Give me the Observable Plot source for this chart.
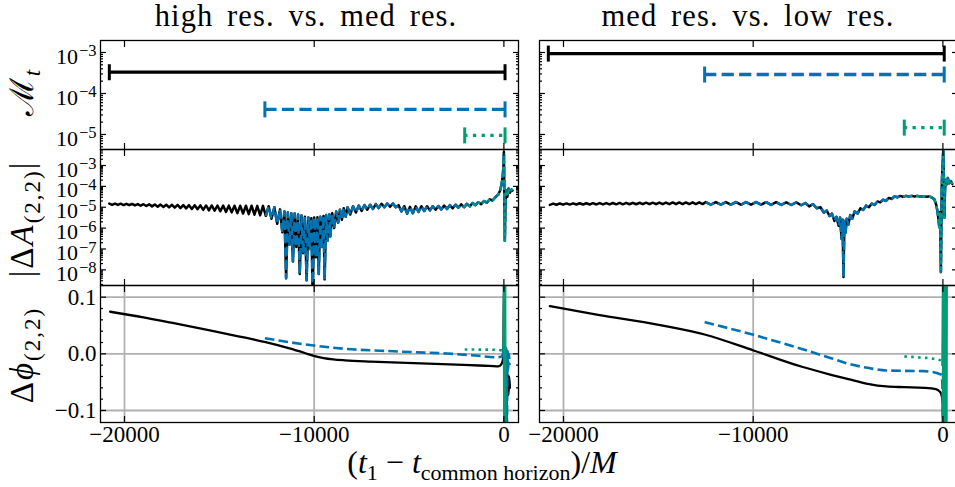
<!DOCTYPE html>
<html><head><meta charset="utf-8">
<script src="https://cdn.jsdelivr.net/npm/d3@7"></script>
<script src="https://cdn.jsdelivr.net/npm/@observablehq/plot@0.6"></script>
<style>
html,body{margin:0;padding:0;background:#fff;}
#wrap{position:relative;width:955px;height:487px;overflow:hidden;background:#fff;font-family:"Liberation Serif","DejaVu Serif",serif;}
#wrap svg{position:absolute;}
</style></head>
<body><div id="wrap"></div>
<script>
// ---------------- data ----------------
const SERIES = ["solid", "dashed", "dotted"];
const X_TICKS = [-20000, -10000, 0];

// mismatch M_t intervals (row 1)
const mtStartHM = [-20800, -12600, -2066];
const mtEndHM   = [60, 60, 60];
const mtValHM   = [3.3e-4, 4.1e-5, 9.5e-6];
const mtStartML = [-20800, -12560, -2035];
const mtEndML   = [70, 70, 70];
const mtValML   = [9.4e-4, 2.9e-4, 1.47e-5];

// |ΔA(2,2)| high vs med : early part (solid only) and the part shared by all curves
const dAEarlyHM = [[-20800,1.51e-5],[-20650,1.31e-5],[-20500,1.50e-5],[-20350,1.30e-5],[-20200,1.48e-5],[-20050,1.27e-5],[-19900,1.46e-5],[-19750,1.25e-5],[-19600,1.44e-5],[-19450,1.22e-5],[-19300,1.42e-5],[-19150,1.18e-5],[-19000,1.40e-5],[-18850,1.15e-5],[-18700,1.38e-5],[-18550,1.10e-5],[-18400,1.36e-5],[-18250,1.07e-5],[-18100,1.34e-5],[-17950,1.03e-5],[-17800,1.32e-5],[-17650,9.9e-6],[-17500,1.31e-5],[-17350,9.5e-6],[-17200,1.29e-5],[-17050,9.1e-6],[-16900,1.27e-5],[-16750,8.8e-6],[-16600,1.26e-5],[-16450,8.3e-6],[-16300,1.24e-5],[-16150,8.0e-6],[-16000,1.23e-5],[-15850,7.5e-6],[-15700,1.22e-5],[-15550,7.0e-6],[-15400,1.22e-5],[-15250,6.8e-6],[-15100,1.21e-5],[-14950,6.4e-6],[-14800,1.2e-5],[-14650,6.0e-6],[-14500,1.19e-5],[-14350,5.7e-6],[-14200,1.18e-5],[-14050,5.2e-6],[-13900,1.18e-5],[-13750,5.0e-6],[-13600,1.18e-5],[-13450,4.7e-6],[-13300,1.18e-5],[-13150,4.4e-6],[-13000,1.17e-5],[-12850,4.1e-6],[-12700,1.17e-5]];
const dACommonHM = [[-12550,3.9e-6],[-12400,1.12e-5],[-12250,2.8e-6],[-12100,1e-5],[-11950,1.6e-6],[-11800,7.9e-6],[-11680,6.3e-7],[-11570,6.3e-6],[-11480,4.0e-9],[-11390,5.6e-6],[-11300,1.6e-7],[-11210,5.2e-6],[-11120,2.5e-8],[-11030,5.0e-6],[-10940,1.26e-7],[-10850,4.5e-6],[-10760,6.3e-9],[-10670,4.0e-6],[-10580,6.3e-8],[-10490,3.5e-6],[-10400,3.2e-9],[-10310,3.2e-6],[-10220,1e-7],[-10150,3.0e-6],[-10080,5e-10],[-10000,3.2e-6],[-9910,4e-8],[-9830,3.3e-6],[-9760,6.3e-9],[-9680,3.5e-6],[-9590,1.26e-7],[-9510,3.8e-6],[-9450,3.5e-9],[-9370,4.2e-6],[-9290,2.5e-7],[-9200,4.5e-6],[-9150,4e-7],[-9050,5.2e-6],[-8950,1e-6],[-8840,6.3e-6],[-8740,1.8e-6],[-8640,7.6e-6],[-8540,2.5e-6],[-8440,8.9e-6],[-8340,3.5e-6],[-8240,1e-5],[-8100,4.5e-6],[-7950,1.12e-5],[-7800,5.6e-6],[-7650,1.2e-5],[-7500,6.6e-6],[-7350,1.26e-5],[-7200,7.6e-6],[-7050,1.32e-5],[-6900,8.3e-6],[-6750,1.41e-5],[-6600,9.1e-6],[-6450,1.48e-5],[-6300,1e-5],[-6150,1.51e-5],[-6000,1.05e-5],[-5850,1.51e-5],[-5700,1e-5],[-5550,1.26e-5],[-5400,6.3e-6],[-5250,1.12e-5],[-5100,5.0e-6],[-4950,1.05e-5],[-4800,5.2e-6],[-4650,1.1e-5],[-4500,6.0e-6],[-4350,1.12e-5],[-4200,6.6e-6],[-4050,1.12e-5],[-3900,7.1e-6],[-3750,1.12e-5],[-3600,7.6e-6],[-3450,1.15e-5],[-3300,7.9e-6],[-3150,1.2e-5],[-3000,8.3e-6],[-2850,1.26e-5],[-2700,8.9e-6],[-2550,1.32e-5],[-2400,9.5e-6],[-2250,1.38e-5],[-2100,1e-5],[-1950,1.45e-5],[-1800,1.1e-5],[-1650,1.58e-5],[-1500,1.26e-5],[-1350,1.74e-5],[-1200,1.41e-5],[-1050,2.0e-5],[-900,1.66e-5],[-750,2.4e-5],[-600,2.1e-5],[-450,3.0e-5],[-300,4.0e-5],[-200,6.3e-5],[-120,1.26e-4],[-60,3.2e-4],[-20,1e-3],[0,4.4e-3],[25,3.2e-5],[50,2.5e-7],[80,1e-5],[120,6.3e-5],[180,3.2e-5],[250,7.9e-5],[320,5e-5],[400,7e-5],[450,6.3e-5]];

// |ΔA(2,2)| med vs low
const dAEarlyML = [[-20720,1.3e-5],[-20545,1.5e-5],[-20370,1.32e-5],[-20195,1.52e-5],[-20020,1.33e-5],[-19845,1.53e-5],[-19670,1.34e-5],[-19495,1.54e-5],[-19320,1.35e-5],[-19145,1.55e-5],[-18970,1.35e-5],[-18795,1.56e-5],[-18620,1.36e-5],[-18445,1.57e-5],[-18270,1.36e-5],[-18095,1.58e-5],[-17920,1.37e-5],[-17745,1.59e-5],[-17570,1.37e-5],[-17395,1.6e-5],[-17220,1.38e-5],[-17045,1.61e-5],[-16870,1.38e-5],[-16695,1.62e-5],[-16520,1.39e-5],[-16345,1.63e-5],[-16170,1.39e-5],[-15995,1.64e-5],[-15820,1.4e-5],[-15645,1.65e-5],[-15470,1.4e-5],[-15295,1.66e-5],[-15120,1.4e-5],[-14945,1.67e-5],[-14770,1.41e-5],[-14595,1.68e-5],[-14420,1.41e-5],[-14245,1.69e-5],[-14070,1.41e-5],[-13895,1.7e-5],[-13720,1.42e-5],[-13545,1.71e-5],[-13370,1.42e-5],[-13195,1.72e-5],[-13020,1.42e-5],[-12845,1.73e-5],[-12670,1.42e-5]];
const dACommonML = [[-12500,1.76e-5],[-12235,1.32e-5],[-11970,1.76e-5],[-11705,1.32e-5],[-11440,1.76e-5],[-11175,1.32e-5],[-10910,1.76e-5],[-10645,1.32e-5],[-10380,1.76e-5],[-10115,1.32e-5],[-9850,1.76e-5],[-9585,1.32e-5],[-9320,1.75e-5],[-9055,1.3e-5],[-8790,1.74e-5],[-8525,1.3e-5],[-8260,1.72e-5],[-7995,1.28e-5],[-7730,1.7e-5],[-7465,1.25e-5],[-7250,1.6e-5],[-7050,1.1e-5],[-6850,1.4e-5],[-6650,9e-6],[-6450,1.0e-5],[-6280,5.5e-6],[-6120,7e-6],[-5980,3.8e-6],[-5850,5e-6],[-5720,2.2e-6],[-5610,3.5e-6],[-5500,1.3e-6],[-5420,3.2e-6],[-5340,3e-7],[-5290,2.5e-6],[-5240,4.5e-9],[-5190,2.2e-6],[-5130,6e-7],[-5070,2.8e-6],[-4980,1.5e-6],[-4880,4.2e-6],[-4780,2.8e-6],[-4650,6.3e-6],[-4500,5.0e-6],[-4350,8.9e-6],[-4200,7.5e-6],[-4050,1.2e-5],[-3900,1.0e-5],[-3750,1.5e-5],[-3600,1.3e-5],[-3450,1.9e-5],[-3300,1.7e-5],[-3150,2.3e-5],[-3000,2.0e-5],[-2850,2.8e-5],[-2700,2.5e-5],[-2550,3.3e-5],[-2400,3.0e-5],[-2250,3.5e-5],[-2100,3.2e-5],[-1950,3.5e-5],[-1800,3.3e-5],[-1650,3.5e-5],[-1500,3.3e-5],[-1350,3.5e-5],[-1200,3.3e-5],[-1050,3.4e-5],[-900,3.2e-5],[-750,3.3e-5],[-600,3.0e-5],[-450,2.4e-5],[-350,1.3e-5],[-280,6e-6],[-230,2.5e-6],[-190,1.1e-6],[-150,6e-6],[-105,7.8e-9],[-60,1e-4],[-20,1e-3],[20,5.2e-3],[50,3.2e-4],[80,3.2e-6],[110,6.3e-5],[150,2e-4],[200,1.26e-4],[260,2.5e-4],[330,1.4e-4],[420,1.8e-4],[500,1.3e-4]];
const dAStartHM = [-Infinity, -12600, -2100];
const dAStartML = [-Infinity, -12560, -2100];

// Δφ(2,2): inspiral parts and post-merger parts
const dPhiHM = [
  [[-20760,0.0743],[-19000,0.0645],[-17460,0.0545],[-15500,0.0415],[-14000,0.031],[-12560,0.0205],[-11300,0.0095],[-10500,0.0015],[-10020,-0.0035],[-9500,-0.0075],[-9000,-0.0098],[-8380,-0.0115],[-7000,-0.0137],[-5500,-0.0155],[-4000,-0.0172],[-2500,-0.019],[-1000,-0.021],[-395,-0.022],[-250,-0.0215],[-150,-0.019],[-80,-0.014],[-30,-0.005],[5,0.13],[20,-0.01],[50,-0.025],[80,-0.02],[110,-0.035],[140,-0.028],[170,-0.05],[200,-0.035],[240,-0.073],[280,-0.04],[320,-0.06]],
  [[-12600,0.0275],[-11300,0.0205],[-10020,0.0146],[-8380,0.0088],[-6500,0.0055],[-4755,0.003],[-3000,0.0005],[-1500,-0.003],[-395,-0.006],[-150,-0.005],[-50,0.0],[0,0.02],[20,-0.03],[40,0.015],[60,-0.13],[80,0.01],[100,-0.02],[130,0.01],[160,-0.13],[190,0.005],[220,-0.03],[260,0.0],[300,-0.02]],
  [[-2066,0.0076],[-1000,0.0074],[-400,0.007],[-100,0.006],[-20,0.005]]
];
const dPhiPostHM = [[-20,0.005],[0,0.13],[12,-0.13],[24,0.13],[36,-0.13],[48,0.13],[60,-0.13],[72,0.13],[84,-0.13]];
const dPhiML = [
  [[-20720,0.0841],[-18175,0.0688],[-14983,0.0512],[-12561,0.0341],[-9983,0.0059],[-7474,-0.0224],[-5895,-0.037],[-4982,-0.0447],[-3965,-0.053],[-2982,-0.0576],[-2035,-0.0588],[-982,-0.06],[-368,-0.0624],[-140,-0.0676],[-18,-0.082],[10,-0.13]],
  [[-12561,0.0559],[-9983,0.0335],[-7474,0.0088],[-5895,-0.0076],[-4982,-0.0176],[-3965,-0.0247],[-2982,-0.0294],[-982,-0.0306],[-105,-0.0365],[-30,-0.05],[0,-0.13],[25,0.05],[45,-0.13],[65,0.02],[85,-0.13]],
  [[-2035,-0.0047],[-1200,-0.0065],[-456,-0.0088],[-105,-0.0118],[-30,-0.02]]
];
const dPhiPostML = [[-30,-0.02],[0,0.13],[15,-0.13],[30,0.13],[45,-0.13],[60,0.13],[75,-0.13],[90,0.13],[105,-0.13],[120,0.13],[135,-0.13],[150,0.13],[165,-0.13],[180,0.13],[195,-0.13],[210,0.13]];

// ---------------- styling ----------------
const COLORS = {solid: "#000000", dashed: "#0173B2", dotted: "#029E73"};
const FONT = '"Liberation Serif","DejaVu Serif",serif';
const X_DOMAIN = [-21265, 770];
const MT_DOMAIN = [4.3e-6, 1.96e-3];
const DA_DOMAIN = [1.78e-9, 5.85e-3];
const PHI_DOMAIN = [-0.1212, 0.1206];
const ROW_TOP = [40, 149, 285], ROW_H = [109, 136, 137];
const FRAME_W = 418, COL_LEFT = [100, 539];

function logMinors(dom) {
  const out = [];
  for (let e = -10; e <= -1; e++) for (let m = 2; m <= 9; m++) {
    const v = m * Math.pow(10, e);
    if (v > dom[0] && v < dom[1]) out.push(v);
  }
  return out;
}
const capSymbol = {draw(ctx, size) { const r = Math.sqrt(size / Math.PI); ctx.moveTo(0, -r); ctx.lineTo(0, r); }};
const logFmt = d => "10^\u2212" + (-Math.round(Math.log10(d)));

function dashOf(s, w) {
  if (s === "dashed") return `${(3.7*w).toFixed(1)},${(1.6*w).toFixed(1)}`;
  if (s === "dotted") return `${w.toFixed(1)},${(1.65*w).toFixed(1)}`;
  return null;
}

function tickMarks(maj, min) {
  const c = {tickFormat: () => "", label: null, strokeWidth: 1.2};
  return [
    Plot.axisY({...c, anchor: "left", ticks: maj, tickSize: 6, dx: 6}),
    Plot.axisY({...c, anchor: "right", ticks: maj, tickSize: 6, dx: -6}),
    min.length ? Plot.axisY({...c, anchor: "left", ticks: min, tickSize: 3, dx: 3}) : null,
    min.length ? Plot.axisY({...c, anchor: "right", ticks: min, tickSize: 3, dx: -3}) : null,
    Plot.axisX({...c, anchor: "top", ticks: X_TICKS, tickSize: 6, dy: 6}),
    Plot.axisX({...c, anchor: "bottom", ticks: X_TICKS, tickSize: 6, dy: -6})
  ];
}

function supers(svg) {
  const NS = "http://www.w3.org/2000/svg";
  svg.querySelectorAll("text").forEach(t => {
    const s = t.textContent, i = s.indexOf("^");
    if (i < 0) return;
    while (t.firstChild) t.removeChild(t.firstChild);
    const a = document.createElementNS(NS, "tspan"); a.textContent = s.slice(0, i);
    const b = document.createElementNS(NS, "tspan"); b.textContent = s.slice(i + 1);
    b.setAttribute("dy", "-0.45em"); b.setAttribute("dx", "1"); b.setAttribute("font-size", "16.5px");
    t.append(a, b);
  });
}

function panel(col, row, dataMarks) {
  let y, maj, min, fmt;
  if (row === 0) { y = {type: "log", domain: MT_DOMAIN}; maj = [1e-3, 1e-4, 1e-5]; min = logMinors(MT_DOMAIN); fmt = logFmt; }
  else if (row === 1) { y = {type: "log", domain: DA_DOMAIN}; maj = [1e-3,1e-4,1e-5,1e-6,1e-7,1e-8]; min = logMinors(DA_DOMAIN); fmt = logFmt; }
  else { y = {type: "linear", domain: PHI_DOMAIN}; maj = [-0.1, 0, 0.1]; min = [-0.08,-0.06,-0.04,-0.02,0.02,0.04,0.06,0.08]; fmt = d3.format(".1f"); }
  const ml = col === 0 ? 100 : 0;
  const marks = [];
  if (row === 2) {
    marks.push(Plot.gridX(X_TICKS, {stroke: "#b0b0b0", strokeOpacity: 1, strokeWidth: 1.8}));
    marks.push(Plot.gridY(maj, {stroke: "#b0b0b0", strokeOpacity: 1, strokeWidth: 1.8}));
  }
  marks.push(...dataMarks);
  marks.push(Plot.frame({stroke: "black", strokeWidth: 1.3}));
  marks.push(...tickMarks(maj, min));
  if (col === 0) marks.push(Plot.axisY({anchor: "left", ticks: maj, tickSize: 0, tickPadding: 4, tickFormat: fmt, label: null, fontSize: row < 2 ? 22 : 23, dy: row < 2 ? 4 : 0}));
  if (row === 2) marks.push(Plot.axisX({anchor: "bottom", ticks: X_TICKS, tickSize: 0, tickPadding: 3, tickFormat: d3.format("d"), label: null, fontSize: 23}));
  const p = Plot.plot({
    width: FRAME_W + ml, height: ROW_H[row],
    marginLeft: ml, marginRight: 0, marginTop: 0, marginBottom: 0,
    style: {background: "transparent", overflow: "visible", fontFamily: FONT, fontSize: "22px", maxWidth: "none"},
    x: {domain: X_DOMAIN}, y,
    marks
  });
  supers(p);
  p.style.left = (COL_LEFT[col] - ml) + "px";
  p.style.top = ROW_TOP[row] + "px";
  document.getElementById("wrap").appendChild(p);
}

function mtMarks(starts, ends, vals) {
  const out = [];
  SERIES.forEach((s, i) => {
    out.push(Plot.ruleY([vals[i]], {x1: starts[i], x2: ends[i], y: d => d, stroke: COLORS[s], strokeWidth: 3.3, strokeDasharray: dashOf(s, 3.3), strokeLinecap: "butt"}));
    out.push(Plot.dot([starts[i], ends[i]], {x: d => d, y: () => vals[i], symbol: capSymbol, r: 8, stroke: COLORS[s], strokeWidth: 3, fill: "none", strokeLinecap: "butt"}));
  });
  return out;
}
function dAMarks(early, common, startT) {
  return SERIES.map((s, i) => {
    const data = i === 0 ? early.concat(common) : common.filter(d => d[0] >= startT[i]);
    return Plot.line(data, {x: d => d[0], y: d => d[1], stroke: COLORS[s], strokeWidth: 2.5, strokeDasharray: dashOf(s, 2.5), strokeLinecap: i ? "butt" : "round", clip: true});
  });
}
function phiMarks(series, post) {
  const m = SERIES.map((s, i) => Plot.line(series[i], {x: d => d[0], y: d => d[1], curve: "monotone-x", stroke: COLORS[s], strokeWidth: i === 0 ? 2.3 : 2.6, strokeDasharray: dashOf(s, 2.6), strokeLinecap: i ? "butt" : "round", clip: true}));
  m.push(Plot.line(post, {x: d => d[0], y: d => d[1], stroke: COLORS.dotted, strokeWidth: 2.2, clip: true}));
  return m;
}

panel(0, 0, mtMarks(mtStartHM, mtEndHM, mtValHM));
panel(1, 0, mtMarks(mtStartML, mtEndML, mtValML));
panel(0, 1, dAMarks(dAEarlyHM, dACommonHM, dAStartHM));
panel(1, 1, dAMarks(dAEarlyML, dACommonML, dAStartML));
panel(0, 2, phiMarks(dPhiHM, dPhiPostHM));
panel(1, 2, phiMarks(dPhiML, dPhiPostML));

// ---------------- text overlay (titles and axis labels) ----------------
const ov = d3.select("#wrap").append("svg").attr("width", 955).attr("height", 487).style("left", "0px").style("top", "0px")
  .attr("font-family", FONT).attr("fill", "black");
ov.append("text").attr("x", 306).attr("y", 26).attr("text-anchor", "middle").attr("font-size", 30.5)
  .attr("letter-spacing", 1.1).attr("word-spacing", 5).text("high res. vs. med res.");
ov.append("text").attr("x", 748).attr("y", 26).attr("text-anchor", "middle").attr("font-size", 30.5)
  .attr("letter-spacing", 1.1).attr("word-spacing", 5).text("med res. vs. low res.");

const xl = ov.append("text").attr("x", 482).attr("y", 473).attr("text-anchor", "middle").attr("font-size", 32);
xl.append("tspan").text("(");
xl.append("tspan").attr("font-style", "italic").text("t");
xl.append("tspan").attr("font-size", 22).attr("dy", 7).text("1");
xl.append("tspan").attr("dy", -7).text(" \u2212 ");
xl.append("tspan").attr("font-style", "italic").text("t");
xl.append("tspan").attr("font-size", 22).attr("dy", 7).text("common horizon");
xl.append("tspan").attr("dy", -7).text(")/");
xl.append("tspan").attr("font-style", "italic").text("M");

function ylab(cy, build) {
  const t = ov.append("text").attr("transform", `translate(33,${cy}) rotate(-90)`).attr("text-anchor", "middle")
    .attr("font-size", 33).attr("letter-spacing", 2);
  build(t);
}
ylab(92, t => {
  t.append("tspan").text("\u2133");
  t.append("tspan").attr("font-size", 23).attr("font-style", "italic").attr("dy", 7).text("t");
});
ylab(219, t => {
  t.append("tspan").text("|\u0394");
  t.append("tspan").attr("font-style", "italic").text("A");
  t.append("tspan").attr("font-size", 23).attr("dy", 7).text("(2,2)");
  t.append("tspan").attr("dy", -7).text("|");
});
ylab(355, t => {
  t.append("tspan").text("\u0394");
  t.append("tspan").attr("font-style", "italic").text("\u03D5");
  t.append("tspan").attr("font-size", 23).attr("dy", 7).text("(2,2)");
});
</script>
</body></html>
